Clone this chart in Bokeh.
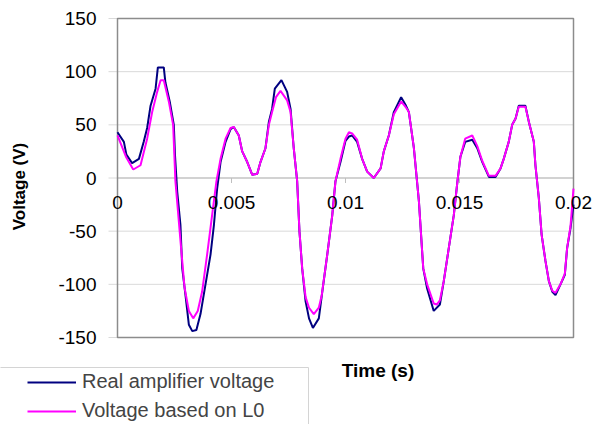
import math
from bokeh.plotting import figure
from bokeh.models import Range1d, Legend, LegendItem
from bokeh.core.properties import value
from bokeh.embed import file_html
from bokeh.resources import INLINE

# Time in milliseconds (converted to seconds below), voltage in V
t_real_ms = [0.00, 0.28, 0.39, 0.64, 0.94, 1.15, 1.30, 1.45, 1.67, 1.77, 2.03, 2.10, 2.29, 2.47, 2.52,
             2.62, 2.76, 2.84, 2.98, 3.13, 3.28, 3.46, 3.64, 3.86, 4.08, 4.23, 4.37, 4.52, 4.74, 4.96,
             5.10, 5.32, 5.47, 5.69, 5.91, 6.13, 6.27, 6.49, 6.64, 6.78, 6.90, 7.19, 7.44, 7.59, 7.73,
             7.88, 7.98, 8.10, 8.25, 8.40, 8.57, 8.83, 9.00, 9.20, 9.42, 9.56, 9.78, 10.00, 10.15, 10.29,
             10.51, 10.73, 10.95, 11.24, 11.54, 11.68, 11.90, 12.12, 12.44, 12.63, 12.78, 13.00, 13.22,
             13.41, 13.58, 13.87, 14.14, 14.31, 14.53, 14.75, 14.90, 15.04, 15.25, 15.56, 15.78, 16.00,
             16.29, 16.58, 16.80, 16.94, 17.16, 17.31, 17.46, 17.60, 17.89, 18.04, 18.26, 18.33, 18.48,
             18.60, 18.77, 18.92, 19.07, 19.21, 19.43, 19.62, 19.72, 19.87, 20.00]
v_real = [43, 34, 22, 14, 18, 34, 47, 68, 84, 104, 104, 90, 72, 50, 22,
          -13, -44, -85, -110, -138, -144, -143, -128, -100, -72, -44, -10, 15, 34, 46,
          48, 40, 25, 15, 3, 4, 15, 28, 53, 65, 84, 92, 81, 65, 28,
          -3, -50, -85, -116, -132, -141, -132, -104, -72, -35, -3, 15, 35, 39, 40,
          34, 18, 6, 0, 9, 25, 40, 62, 76, 69, 62, 28, -22,
          -85, -104, -125, -119, -97, -66, -35, -5, 20, 34, 36, 28, 15,
          1, 1, 9, 18, 34, 50, 56, 68, 68, 53, 34, 12, -19,
          -53, -78, -97, -107, -110, -100, -91, -66, -47, -25]

t_l0_ms = [0.00, 0.37, 0.69, 1.01, 1.30, 1.52, 1.74, 1.89, 2.03, 2.25, 2.44, 2.54, 2.79, 2.94, 3.13,
           3.32, 3.52, 3.71, 3.93, 4.15, 4.34, 4.52, 4.74, 4.96, 5.10, 5.32, 5.47, 5.69, 5.91, 6.13,
           6.27, 6.49, 6.64, 6.78, 6.95, 7.15, 7.44, 7.59, 7.73, 7.88, 7.98, 8.10, 8.25, 8.40, 8.61,
           8.83, 8.96, 9.20, 9.42, 9.56, 9.78, 10.00, 10.15, 10.29, 10.51, 10.73, 10.95, 11.24, 11.54,
           11.68, 11.90, 12.12, 12.44, 12.63, 12.78, 13.00, 13.22, 13.41, 13.58, 13.87, 14.00, 14.14,
           14.31, 14.53, 14.75, 14.90, 15.04, 15.25, 15.56, 15.78, 16.00, 16.29, 16.58, 16.80, 16.94,
           17.16, 17.31, 17.46, 17.60, 17.89, 18.04, 18.26, 18.33, 18.48, 18.60, 18.77, 18.92, 19.07,
           19.21, 19.43, 19.62, 19.72, 19.87, 20.00]
v_l0 = [40, 20, 8, 12, 37, 62, 81, 92, 92, 72, 50, -3, -66, -103, -125,
        -132, -125, -107, -72, -35, -3, 18, 37, 47, 48, 40, 25, 15, 3, 4,
        15, 28, 50, 62, 76, 82, 73, 62, 28, -3, -50, -85, -112, -122, -128,
        -122, -110, -72, -35, -3, 18, 37, 43, 42, 36, 18, 6, 0, 9,
        25, 40, 60, 72, 67, 62, 28, -22, -85, -100, -118, -119, -115,
        -97, -66, -35, -5, 20, 37, 40, 30, 16, 2, 2, 9, 18,
        34, 50, 56, 67, 67, 53, 34, 12, -19, -53, -78, -97, -106,
        -108, -100, -90, -66, -45, -10]

x_ticks = [0, 0.005, 0.01, 0.015, 0.02]
x_tick_labels = ["0", "0.005", "0.01", "0.015", "0.02"]
y_ticks = [-150, -100, -50, 0, 50, 100, 150]
y_tick_labels = ["-150", "-100", "-50", "0", "50", "100", "150"]
series_names = ["Real amplifier voltage", "Voltage based on L0"]
x_title = "Time (s)"
y_title = "Voltage (V)"

t_real = [t / 1000.0 for t in t_real_ms]
t_l0 = [t / 1000.0 for t in t_l0_ms]

# ---- layout (pixels on the 598x424 canvas) ----
W, H = 598, 424
PX_L, PX_R, PY_T, PY_B = 117, 573, 18, 337   # plot area


def xd(px):
    return x_ticks[0] + (px - PX_L) / (PX_R - PX_L) * (x_ticks[-1] - x_ticks[0])


def yd(py):
    return y_ticks[-1] - (py - PY_T) / (PY_B - PY_T) * (y_ticks[-1] - y_ticks[0])


FONT = value("Liberation Sans")
GRAY = "#8c8c8c"
GRID = "#dadada"

p = figure(width=W, height=H, output_backend="svg", toolbar_location=None,
           x_axis_type=None, y_axis_type=None,
           x_range=Range1d(xd(0), xd(W)), y_range=Range1d(yd(H), yd(0)),
           min_border=0)
p.outline_line_color = None
p.background_fill_color = "white"
p.border_fill_color = "white"
p.xgrid.visible = False
p.ygrid.visible = False

# legend box (behind everything)
p.quad(left=[xd(-3)], right=[xd(308)], top=[yd(367)], bottom=[yd(H + 5)],
       fill_color="white", line_color="#d4d4d4", line_width=1)

# horizontal gridlines (with outward tick extension at left)
g_ticks = [t for t in y_ticks if t not in (0, y_ticks[-1], y_ticks[0])]
p.segment(x0=[xd(108)] * len(g_ticks), x1=[x_ticks[-1]] * len(g_ticks), y0=g_ticks, y1=g_ticks,
          line_color=GRID, line_width=1)
edge_ticks = [y_ticks[0], 0, y_ticks[-1]]
p.segment(x0=[xd(108)] * 3, x1=[x_ticks[0]] * 3, y0=edge_ticks, y1=edge_ticks,
          line_color=GRID, line_width=1)

# x axis at y = 0 with small downward ticks
p.segment(x0=[x_ticks[0]], x1=[x_ticks[-1]], y0=[0], y1=[0], line_color="#a6a6a6", line_width=1.2)
p.segment(x0=x_ticks, x1=x_ticks, y0=[0] * len(x_ticks), y1=[yd(182.5)] * len(x_ticks),
          line_color="#bfbfbf", line_width=1)

# plot area border
p.quad(left=[x_ticks[0]], right=[x_ticks[-1]], top=[y_ticks[-1]], bottom=[y_ticks[0]],
       fill_alpha=0, line_color=GRAY, line_width=1.5)

# data lines
r1 = p.line(t_real, v_real, line_color="#000080", line_width=2)
r2 = p.line(t_l0, v_l0, line_color="#ff00ff", line_width=2)

# tick labels
p.text(x=[x_ticks[0]] * len(y_ticks), y=y_ticks, text=y_tick_labels, x_offset=-21,
       text_align="right", text_baseline="middle", text_font=FONT, text_font_size="19px",
       text_color="black")
p.text(x=x_ticks, y=[0] * len(x_ticks), text=x_tick_labels, y_offset=18,
       text_align="center", text_baseline="top", text_font=FONT, text_font_size="19px",
       text_color="black")

# axis titles
p.text(x=[xd(18.5)], y=[yd(186)], text=[y_title], angle=math.pi / 2,
       text_align="center", text_baseline="middle", text_font=FONT, text_font_size="17px",
       text_font_style="bold", text_color="black")
p.text(x=[xd(377.5)], y=[yd(370)], text=[x_title],
       text_align="center", text_baseline="middle", text_font=FONT, text_font_size="19px",
       text_font_style="bold", text_color="black")

legend = Legend(items=[LegendItem(label=series_names[0], renderers=[r1]),
                       LegendItem(label=series_names[1], renderers=[r2])],
                location=(22, -3))
legend.padding = 5
legend.spacing = 6
legend.glyph_width = 49
legend.glyph_height = 22
legend.label_height = 22
legend.label_width = 220
legend.label_standoff = 6
legend.label_text_font = "Liberation Sans"
legend.label_text_font_size = "20px"
legend.border_line_alpha = 0
legend.background_fill_alpha = 0
legend.margin = 0
p.add_layout(legend, "center")

open("out.html", "w").write(file_html(p, INLINE))
